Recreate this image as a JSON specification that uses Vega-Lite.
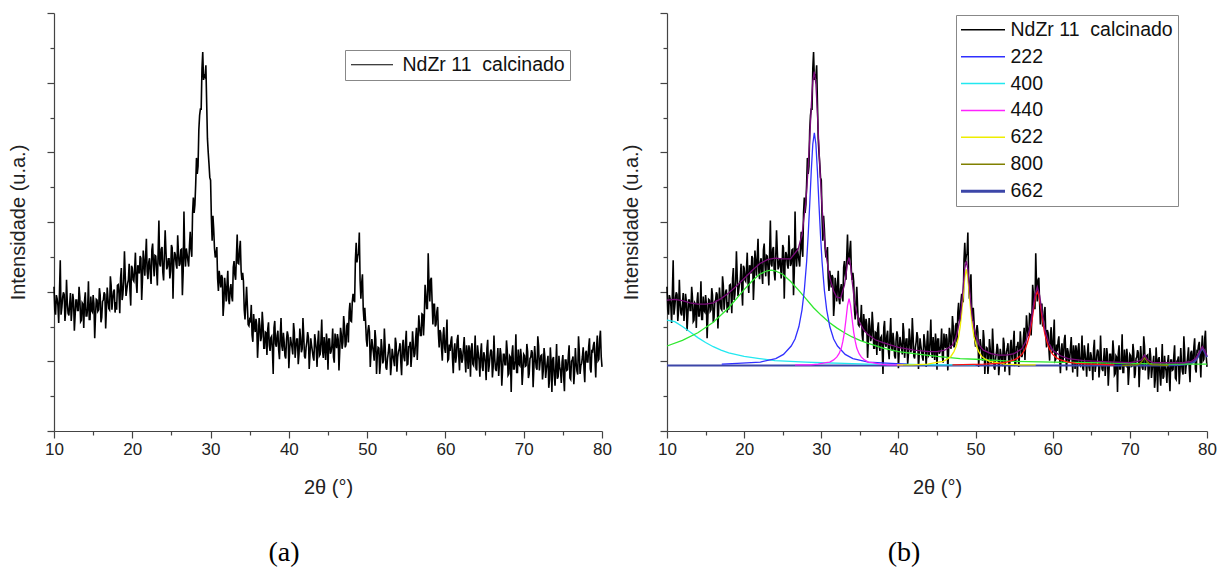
{
"$schema": "https://vega.github.io/schema/vega-lite/v6.json",
"padding": {"left": 8, "top": 12, "right": 5, "bottom": 5},
"spacing": 9,
"background": "#ffffff",
"config": {
  "view": {"stroke": null},
  "axis": {"grid": false, "labelFont": "Liberation Sans", "titleFont": "Liberation Sans", "labelFontSize": 17, "titleFontSize": 20, "titleFontWeight": "normal", "labelColor": "#222222", "titleColor": "#222222", "domainColor": "#444444", "tickColor": "#444444", "domainWidth": 1.2, "tickWidth": 1.2},
  "legend": {"labelFont": "Liberation Sans", "labelColor": "#111111", "labelFontSize": 19.5, "labelLimit": 400}
},
"resolve": {"scale": {"color": "independent"}},
"datasets": {
"raw": [
{"t":10,"i":2.07},{"t":10.2,"i":1.67},{"t":10.4,"i":1.90},{"t":10.6,"i":1.55},{"t":10.8,"i":2.45},
{"t":11,"i":1.77},{"t":11.2,"i":1.99},{"t":11.4,"i":1.58},{"t":11.6,"i":2.17},{"t":11.8,"i":1.69},
{"t":12,"i":1.82},{"t":12.2,"i":1.58},{"t":12.4,"i":1.97},{"t":12.6,"i":1.44},{"t":12.8,"i":1.88},
{"t":13,"i":1.73},{"t":13.2,"i":2.07},{"t":13.4,"i":1.57},{"t":13.6,"i":1.84},{"t":13.8,"i":1.48},
{"t":14,"i":1.99},{"t":14.2,"i":1.65},{"t":14.4,"i":2.15},{"t":14.6,"i":1.60},{"t":14.8,"i":1.73},
{"t":15,"i":1.95},{"t":15.2,"i":1.33},{"t":15.4,"i":1.89},{"t":15.6,"i":1.72},{"t":15.8,"i":2.05},
{"t":16,"i":1.56},{"t":16.2,"i":1.86},{"t":16.4,"i":1.99},{"t":16.6,"i":1.47},{"t":16.8,"i":2.06},
{"t":17,"i":1.76},{"t":17.2,"i":2.22},{"t":17.4,"i":1.74},{"t":17.6,"i":2.00},{"t":17.8,"i":1.70},
{"t":18,"i":1.74},{"t":18.2,"i":2.10},{"t":18.4,"i":1.69},{"t":18.6,"i":2.34},{"t":18.8,"i":1.96},
{"t":19,"i":2.58},{"t":19.2,"i":1.94},{"t":19.4,"i":2.12},{"t":19.6,"i":2.40},{"t":19.8,"i":1.80},
{"t":20,"i":2.34},{"t":20.2,"i":2.15},{"t":20.4,"i":2.56},{"t":20.6,"i":1.98},{"t":20.8,"i":2.35},
{"t":21,"i":2.51},{"t":21.2,"i":1.88},{"t":21.4,"i":2.59},{"t":21.6,"i":2.23},{"t":21.8,"i":2.76},
{"t":22,"i":2.18},{"t":22.2,"i":2.48},{"t":22.4,"i":2.11},{"t":22.6,"i":2.69},{"t":22.8,"i":2.22},
{"t":23,"i":2.51},{"t":23.2,"i":2.09},{"t":23.4,"i":3.02},{"t":23.6,"i":2.36},{"t":23.8,"i":2.64},
{"t":24,"i":2.16},{"t":24.2,"i":2.88},{"t":24.4,"i":2.32},{"t":24.6,"i":2.47},{"t":24.8,"i":2.19},
{"t":25,"i":2.67},{"t":25.2,"i":1.90},{"t":25.4,"i":2.57},{"t":25.6,"i":2.39},{"t":25.8,"i":2.81},
{"t":26,"i":2.37},{"t":26.2,"i":2.60},{"t":26.4,"i":1.95},{"t":26.6,"i":3.15},{"t":26.8,"i":2.36},
{"t":27,"i":2.54},{"t":27.2,"i":2.36},{"t":27.4,"i":2.86},{"t":27.6,"i":2.50},{"t":27.8,"i":3.35},
{"t":28,"i":3.25},{"t":28.2,"i":3.92},{"t":28.4,"i":3.80},{"t":28.6,"i":4.53},{"t":28.8,"i":4.62},
{"t":29,"i":5.44},{"t":29.2,"i":5.10},{"t":29.4,"i":5.25},{"t":29.6,"i":4.20},{"t":29.8,"i":3.83},
{"t":30,"i":3.60},{"t":30.2,"i":2.73},{"t":30.4,"i":2.90},{"t":30.6,"i":2.49},{"t":30.8,"i":2.64},
{"t":31,"i":2.01},{"t":31.2,"i":2.19},{"t":31.4,"i":2.24},{"t":31.6,"i":1.65},{"t":31.8,"i":2.20},
{"t":32,"i":1.86},{"t":32.2,"i":2.30},{"t":32.4,"i":1.82},{"t":32.6,"i":2.11},{"t":32.8,"i":1.86},
{"t":33,"i":2.44},{"t":33.2,"i":2.17},{"t":33.4,"i":2.82},{"t":33.6,"i":2.40},{"t":33.8,"i":2.73},
{"t":34,"i":2.17},{"t":34.2,"i":2.15},{"t":34.4,"i":1.60},{"t":34.6,"i":2.07},{"t":34.8,"i":1.53},
{"t":35,"i":1.60},{"t":35.2,"i":1.81},{"t":35.4,"i":1.28},{"t":35.6,"i":1.52},{"t":35.8,"i":1.61},
{"t":36,"i":1.05},{"t":36.2,"i":1.62},{"t":36.4,"i":1.29},{"t":36.6,"i":1.71},{"t":36.8,"i":1.19},
{"t":37,"i":1.42},{"t":37.2,"i":1.09},{"t":37.4,"i":1.56},{"t":37.6,"i":1.15},{"t":37.8,"i":1.36},
{"t":38,"i":0.82},{"t":38.2,"i":1.58},{"t":38.4,"i":1.21},{"t":38.6,"i":1.44},{"t":38.8,"i":1.03},
{"t":39,"i":1.62},{"t":39.2,"i":1.15},{"t":39.4,"i":1.28},{"t":39.6,"i":1.04},{"t":39.8,"i":1.43},
{"t":40,"i":0.90},{"t":40.2,"i":1.35},{"t":40.4,"i":1.20},{"t":40.6,"i":1.55},{"t":40.8,"i":1.05},
{"t":41,"i":1.32},{"t":41.2,"i":0.96},{"t":41.4,"i":1.47},{"t":41.6,"i":1.13},{"t":41.8,"i":1.62},
{"t":42,"i":1.07},{"t":42.2,"i":1.20},{"t":42.4,"i":1.42},{"t":42.6,"i":0.89},{"t":42.8,"i":1.33},
{"t":43,"i":1.15},{"t":43.2,"i":1.01},{"t":43.4,"i":1.29},{"t":43.6,"i":0.92},{"t":43.8,"i":1.44},
{"t":44,"i":1.10},{"t":44.2,"i":1.60},{"t":44.4,"i":1.05},{"t":44.6,"i":1.18},{"t":44.8,"i":1.40},
{"t":45,"i":0.88},{"t":45.2,"i":1.32},{"t":45.4,"i":1.14},{"t":45.6,"i":1.47},{"t":45.8,"i":0.98},
{"t":46,"i":1.26},{"t":46.2,"i":1.39},{"t":46.4,"i":0.87},{"t":46.6,"i":1.48},{"t":46.8,"i":1.18},
{"t":47,"i":1.65},{"t":47.2,"i":1.20},{"t":47.4,"i":1.51},{"t":47.6,"i":1.27},{"t":47.8,"i":1.84},
{"t":48,"i":1.57},{"t":48.2,"i":1.97},{"t":48.4,"i":1.85},{"t":48.6,"i":2.70},{"t":48.8,"i":2.52},
{"t":49,"i":2.85},{"t":49.2,"i":1.90},{"t":49.4,"i":2.25},{"t":49.6,"i":1.58},{"t":49.8,"i":1.57},
{"t":50,"i":1.21},{"t":50.2,"i":1.52},{"t":50.4,"i":0.92},{"t":50.6,"i":1.32},{"t":50.8,"i":1.13},
{"t":51,"i":1.45},{"t":51.2,"i":0.82},{"t":51.4,"i":1.20},{"t":51.6,"i":0.82},{"t":51.8,"i":1.32},
{"t":52,"i":0.97},{"t":52.2,"i":1.47},{"t":52.4,"i":0.91},{"t":52.6,"i":1.04},{"t":52.8,"i":1.25},
{"t":53,"i":0.80},{"t":53.2,"i":1.18},{"t":53.4,"i":1.01},{"t":53.6,"i":1.34},{"t":53.8,"i":0.85},
{"t":54,"i":1.14},{"t":54.2,"i":1.26},{"t":54.4,"i":0.80},{"t":54.6,"i":1.31},{"t":54.8,"i":1.00},
{"t":55,"i":1.44},{"t":55.2,"i":0.96},{"t":55.4,"i":1.21},{"t":55.6,"i":0.92},{"t":55.8,"i":1.43},
{"t":56,"i":1.06},{"t":56.2,"i":1.33},{"t":56.4,"i":1.02},{"t":56.6,"i":1.66},{"t":56.8,"i":1.37},
{"t":57,"i":1.68},{"t":57.2,"i":1.37},{"t":57.4,"i":2.10},{"t":57.6,"i":1.76},{"t":57.8,"i":2.55},
{"t":58,"i":1.86},{"t":58.2,"i":2.20},{"t":58.4,"i":1.53},{"t":58.6,"i":1.82},{"t":58.8,"i":1.53},
{"t":59,"i":1.78},{"t":59.2,"i":1.20},{"t":59.4,"i":1.41},{"t":59.6,"i":1.01},{"t":59.8,"i":1.49},
{"t":60,"i":1.12},{"t":60.2,"i":1.60},{"t":60.4,"i":1.03},{"t":60.6,"i":1.15},{"t":60.8,"i":1.36},
{"t":61,"i":0.83},{"t":61.2,"i":1.26},{"t":61.4,"i":1.07},{"t":61.6,"i":1.38},{"t":61.8,"i":0.87},
{"t":62,"i":1.14},{"t":62.2,"i":1.03},{"t":62.4,"i":1.35},{"t":62.6,"i":0.84},{"t":62.8,"i":1.12},
{"t":63,"i":1.23},{"t":63.2,"i":0.78},{"t":63.4,"i":1.26},{"t":63.6,"i":0.94},{"t":63.8,"i":1.37},
{"t":64,"i":0.87},{"t":64.2,"i":1.11},{"t":64.4,"i":0.78},{"t":64.6,"i":1.26},{"t":64.8,"i":0.86},
{"t":65,"i":1.08},{"t":65.2,"i":0.73},{"t":65.4,"i":1.31},{"t":65.6,"i":0.94},{"t":65.8,"i":1.17},
{"t":66,"i":0.77},{"t":66.2,"i":1.37},{"t":66.4,"i":0.89},{"t":66.6,"i":1.03},{"t":66.8,"i":0.79},
{"t":67,"i":1.19},{"t":67.2,"i":0.65},{"t":67.4,"i":1.10},{"t":67.6,"i":0.95},{"t":67.8,"i":1.30},
{"t":68,"i":0.80},{"t":68.2,"i":1.08},{"t":68.4,"i":0.56},{"t":68.6,"i":1.23},{"t":68.8,"i":0.89},
{"t":69,"i":1.39},{"t":69.2,"i":0.84},{"t":69.4,"i":0.96},{"t":69.6,"i":1.18},{"t":69.8,"i":0.66},
{"t":70,"i":1.10},{"t":70.2,"i":0.93},{"t":70.4,"i":1.25},{"t":70.6,"i":0.76},{"t":70.8,"i":1.04},
{"t":71,"i":1.16},{"t":71.2,"i":0.63},{"t":71.4,"i":1.22},{"t":71.6,"i":0.91},{"t":71.8,"i":1.36},
{"t":72,"i":0.87},{"t":72.2,"i":1.08},{"t":72.4,"i":0.74},{"t":72.6,"i":1.19},{"t":72.8,"i":0.76},
{"t":73,"i":0.98},{"t":73.2,"i":0.62},{"t":73.4,"i":1.20},{"t":73.6,"i":0.56},{"t":73.8,"i":1.06},
{"t":74,"i":0.65},{"t":74.2,"i":1.25},{"t":74.4,"i":0.78},{"t":74.6,"i":0.92},{"t":74.8,"i":0.69},
{"t":75,"i":1.09},{"t":75.2,"i":0.57},{"t":75.4,"i":1.02},{"t":75.6,"i":0.88},{"t":75.8,"i":1.23},
{"t":76,"i":0.74},{"t":76.2,"i":1.02},{"t":76.4,"i":0.67},{"t":76.6,"i":1.19},{"t":76.8,"i":0.86},
{"t":77,"i":1.36},{"t":77.2,"i":0.82},{"t":77.4,"i":0.97},{"t":77.6,"i":1.20},{"t":77.8,"i":0.70},
{"t":78,"i":1.15},{"t":78.2,"i":0.99},{"t":78.4,"i":1.33},{"t":78.6,"i":0.84},{"t":78.8,"i":1.14},
{"t":79,"i":1.28},{"t":79.2,"i":0.77},{"t":79.4,"i":1.37},{"t":79.6,"i":1.03},{"t":79.8,"i":1.44},
{"t":80,"i":0.92},
{"t":10.1,"i":1.73},{"t":10.3,"i":1.95},{"t":10.5,"i":1.80},{"t":10.7,"i":2.00},{"t":10.9,"i":1.67},
{"t":11.1,"i":1.91},{"t":11.3,"i":1.96},{"t":11.5,"i":1.73},{"t":11.7,"i":1.84},{"t":11.9,"i":1.66},
{"t":12.1,"i":1.98},{"t":12.3,"i":1.75},{"t":12.5,"i":1.87},{"t":12.7,"i":1.66},{"t":12.9,"i":1.88},
{"t":13.1,"i":1.73},{"t":13.3,"i":1.92},{"t":13.5,"i":1.59},{"t":13.7,"i":1.82},{"t":13.9,"i":1.87},
{"t":14.1,"i":1.65},{"t":14.3,"i":1.77},{"t":14.5,"i":1.60},{"t":14.7,"i":1.93},{"t":14.9,"i":1.71},
{"t":15.1,"i":1.83},{"t":15.3,"i":1.65},{"t":15.5,"i":1.88},{"t":15.7,"i":1.74},{"t":15.9,"i":1.95},
{"t":16.1,"i":1.63},{"t":16.3,"i":1.88},{"t":16.5,"i":1.96},{"t":16.7,"i":1.76},{"t":16.9,"i":1.89},
{"t":17.1,"i":1.74},{"t":17.3,"i":2.09},{"t":17.5,"i":1.89},{"t":17.7,"i":2.03},{"t":17.9,"i":1.85},
{"t":18.1,"i":2.09},{"t":18.3,"i":1.97},{"t":18.5,"i":2.19},{"t":18.7,"i":1.88},{"t":18.9,"i":2.15},
{"t":19.1,"i":2.23},{"t":19.3,"i":2.03},{"t":19.5,"i":2.17},{"t":19.7,"i":2.02},{"t":19.9,"i":2.37},
{"t":20.1,"i":2.17},{"t":20.3,"i":2.32},{"t":20.5,"i":2.14},{"t":20.7,"i":2.38},{"t":20.9,"i":2.26},
{"t":21.1,"i":2.48},{"t":21.3,"i":2.16},{"t":21.5,"i":2.42},{"t":21.7,"i":2.50},{"t":21.9,"i":2.29},
{"t":22.1,"i":2.42},{"t":22.3,"i":2.26},{"t":22.5,"i":2.60},{"t":22.7,"i":2.39},{"t":22.9,"i":2.52},
{"t":23.1,"i":2.33},{"t":23.3,"i":2.55},{"t":23.5,"i":2.40},{"t":23.7,"i":2.61},{"t":23.9,"i":2.28},
{"t":24.1,"i":2.52},{"t":24.3,"i":2.58},{"t":24.5,"i":2.36},{"t":24.7,"i":2.47},{"t":24.9,"i":2.30},
{"t":25.1,"i":2.63},{"t":25.3,"i":2.41},{"t":25.5,"i":2.53},{"t":25.7,"i":2.33},{"t":25.9,"i":2.55},
{"t":26.1,"i":2.40},{"t":26.3,"i":2.61},{"t":26.5,"i":2.28},{"t":26.7,"i":2.53},{"t":26.9,"i":2.62},
{"t":27.1,"i":2.45},{"t":27.3,"i":2.65},{"t":27.5,"i":2.61},{"t":27.7,"i":3.13},{"t":27.9,"i":3.13},
{"t":28.1,"i":3.54},{"t":28.3,"i":3.69},{"t":28.5,"i":4.32},{"t":28.7,"i":4.62},{"t":28.9,"i":5.20},
{"t":29.1,"i":5.04},{"t":29.3,"i":5.08},{"t":29.5,"i":4.72},{"t":29.7,"i":4.00},{"t":29.9,"i":3.64},
{"t":30.1,"i":3.07},{"t":30.3,"i":3.09},{"t":30.5,"i":2.62},{"t":30.7,"i":2.54},{"t":30.9,"i":2.19},
{"t":31.1,"i":2.30},{"t":31.3,"i":2.06},{"t":31.5,"i":2.20},{"t":31.7,"i":1.83},{"t":31.9,"i":2.05},
{"t":32.1,"i":2.10},{"t":32.3,"i":1.89},{"t":32.5,"i":2.04},{"t":32.7,"i":1.93},{"t":32.9,"i":2.35},
{"t":33.1,"i":2.24},{"t":33.3,"i":2.50},{"t":33.5,"i":2.41},{"t":33.7,"i":2.60},{"t":33.9,"i":2.30},
{"t":34.1,"i":2.27},{"t":34.3,"i":1.74},{"t":34.5,"i":1.84},{"t":34.7,"i":1.80},{"t":34.9,"i":1.51},
{"t":35.1,"i":1.58},{"t":35.3,"i":1.38},{"t":35.5,"i":1.68},{"t":35.7,"i":1.42},{"t":35.9,"i":1.52},
{"t":36.1,"i":1.30},{"t":36.3,"i":1.51},{"t":36.5,"i":1.35},{"t":36.7,"i":1.53},{"t":36.9,"i":1.19},
{"t":37.1,"i":1.41},{"t":37.3,"i":1.46},{"t":37.5,"i":1.23},{"t":37.7,"i":1.34},{"t":37.9,"i":1.16},
{"t":38.1,"i":1.48},{"t":38.3,"i":1.25},{"t":38.5,"i":1.37},{"t":38.7,"i":1.16},{"t":38.9,"i":1.37},
{"t":39.1,"i":1.22},{"t":39.3,"i":1.41},{"t":39.5,"i":1.08},{"t":39.7,"i":1.31},{"t":39.9,"i":1.37},
{"t":40.1,"i":1.15},{"t":40.3,"i":1.27},{"t":40.5,"i":1.10},{"t":40.7,"i":1.42},{"t":40.9,"i":1.20},
{"t":41.1,"i":1.32},{"t":41.3,"i":1.11},{"t":41.5,"i":1.33},{"t":41.7,"i":1.18},{"t":41.9,"i":1.37},
{"t":42.1,"i":1.04},{"t":42.3,"i":1.28},{"t":42.5,"i":1.34},{"t":42.7,"i":1.11},{"t":42.9,"i":1.23},
{"t":43.1,"i":1.06},{"t":43.3,"i":1.39},{"t":43.5,"i":1.17},{"t":43.7,"i":1.28},{"t":43.9,"i":1.08},
{"t":44.1,"i":1.30},{"t":44.3,"i":1.15},{"t":44.5,"i":1.35},{"t":44.7,"i":1.02},{"t":44.9,"i":1.26},
{"t":45.1,"i":1.32},{"t":45.3,"i":1.11},{"t":45.5,"i":1.23},{"t":45.7,"i":1.06},{"t":45.9,"i":1.40},
{"t":46.1,"i":1.19},{"t":46.3,"i":1.32},{"t":46.5,"i":1.14},{"t":46.7,"i":1.39},{"t":46.9,"i":1.27},
{"t":47.1,"i":1.51},{"t":47.3,"i":1.24},{"t":47.5,"i":1.55},{"t":47.7,"i":1.70},{"t":47.9,"i":1.58},
{"t":48.1,"i":1.85},{"t":48.3,"i":1.88},{"t":48.5,"i":2.46},{"t":48.7,"i":2.42},{"t":48.9,"i":2.54},
{"t":49.1,"i":2.16},{"t":49.3,"i":2.12},{"t":49.5,"i":1.75},{"t":49.7,"i":1.77},{"t":49.9,"i":1.31},
{"t":50.1,"i":1.44},{"t":50.3,"i":1.42},{"t":50.5,"i":1.14},{"t":50.7,"i":1.22},{"t":50.9,"i":1.01},
{"t":51.1,"i":1.32},{"t":51.3,"i":1.09},{"t":51.5,"i":1.19},{"t":51.7,"i":0.97},{"t":51.9,"i":1.18},
{"t":52.1,"i":1.02},{"t":52.3,"i":1.22},{"t":52.5,"i":0.88},{"t":52.7,"i":1.12},{"t":52.9,"i":1.17},
{"t":53.1,"i":0.95},{"t":53.3,"i":1.09},{"t":53.5,"i":0.93},{"t":53.7,"i":1.26},{"t":53.9,"i":1.06},
{"t":54.1,"i":1.18},{"t":54.3,"i":0.99},{"t":54.5,"i":1.21},{"t":54.7,"i":1.06},{"t":54.9,"i":1.27},
{"t":55.1,"i":0.95},{"t":55.3,"i":1.21},{"t":55.5,"i":1.28},{"t":55.7,"i":1.09},{"t":55.9,"i":1.24},
{"t":56.1,"i":1.11},{"t":56.3,"i":1.48},{"t":56.5,"i":1.31},{"t":56.7,"i":1.49},{"t":56.9,"i":1.37},
{"t":57.1,"i":1.67},{"t":57.3,"i":1.63},{"t":57.5,"i":1.96},{"t":57.7,"i":1.76},{"t":57.9,"i":2.10},
{"t":58.1,"i":2.17},{"t":58.3,"i":1.85},{"t":58.5,"i":1.82},{"t":58.7,"i":1.50},{"t":58.9,"i":1.71},
{"t":59.1,"i":1.40},{"t":59.3,"i":1.45},{"t":59.5,"i":1.19},{"t":59.7,"i":1.37},{"t":59.9,"i":1.19},
{"t":60.1,"i":1.36},{"t":60.3,"i":1.01},{"t":60.5,"i":1.24},{"t":60.7,"i":1.29},{"t":60.9,"i":1.05},
{"t":61.1,"i":1.16},{"t":61.3,"i":0.98},{"t":61.5,"i":1.31},{"t":61.7,"i":1.08},{"t":61.9,"i":1.19},
{"t":62.1,"i":0.98},{"t":62.3,"i":1.19},{"t":62.5,"i":1.04},{"t":62.7,"i":1.23},{"t":62.9,"i":0.89},
{"t":63.1,"i":1.13},{"t":63.3,"i":1.19},{"t":63.5,"i":0.96},{"t":63.7,"i":1.08},{"t":63.9,"i":0.90},
{"t":64.1,"i":1.23},{"t":64.3,"i":1.01},{"t":64.5,"i":1.12},{"t":64.7,"i":0.92},{"t":64.9,"i":1.13},
{"t":65.1,"i":0.98},{"t":65.3,"i":1.18},{"t":65.5,"i":0.85},{"t":65.7,"i":1.08},{"t":65.9,"i":1.14},
{"t":66.1,"i":0.92},{"t":66.3,"i":1.04},{"t":66.5,"i":0.86},{"t":66.7,"i":1.19},{"t":66.9,"i":0.97},
{"t":67.1,"i":1.09},{"t":67.3,"i":0.88},{"t":67.5,"i":1.10},{"t":67.7,"i":0.95},{"t":67.9,"i":1.15},
{"t":68.1,"i":0.82},{"t":68.3,"i":1.06},{"t":68.5,"i":1.11},{"t":68.7,"i":0.89},{"t":68.9,"i":1.01},
{"t":69.1,"i":0.84},{"t":69.3,"i":1.17},{"t":69.5,"i":0.94},{"t":69.7,"i":1.06},{"t":69.9,"i":0.86},
{"t":70.1,"i":1.08},{"t":70.3,"i":0.94},{"t":70.5,"i":1.14},{"t":70.7,"i":0.82},{"t":70.9,"i":1.06},
{"t":71.1,"i":1.12},{"t":71.3,"i":0.91},{"t":71.5,"i":1.04},{"t":71.7,"i":0.88},{"t":71.9,"i":1.22},
{"t":72.1,"i":1.00},{"t":72.3,"i":1.09},{"t":72.5,"i":0.87},{"t":72.7,"i":1.06},{"t":72.9,"i":0.89},
{"t":73.1,"i":1.08},{"t":73.3,"i":0.74},{"t":73.5,"i":0.98},{"t":73.7,"i":1.03},{"t":73.9,"i":0.80},
{"t":74.1,"i":0.92},{"t":74.3,"i":0.75},{"t":74.5,"i":1.08},{"t":74.7,"i":0.86},{"t":74.9,"i":0.99},
{"t":75.1,"i":0.79},{"t":75.3,"i":1.02},{"t":75.5,"i":0.87},{"t":75.7,"i":1.08},{"t":75.9,"i":0.76},
{"t":76.1,"i":1.00},{"t":76.3,"i":1.07},{"t":76.5,"i":0.85},{"t":76.7,"i":0.97},{"t":76.9,"i":0.81},
{"t":77.1,"i":1.14},{"t":77.3,"i":0.94},{"t":77.5,"i":1.07},{"t":77.7,"i":0.89},{"t":77.9,"i":1.12},
{"t":78.1,"i":0.99},{"t":78.3,"i":1.21},{"t":78.5,"i":0.89},{"t":78.7,"i":1.15},{"t":78.9,"i":1.23},
{"t":79.1,"i":1.03},{"t":79.3,"i":1.18},{"t":79.5,"i":1.01},{"t":79.7,"i":1.32},{"t":79.9,"i":1.07}
],
"fits": [
{"s":"662","t":10,"i":0.94},{"s":"662","t":30,"i":0.94},{"s":"662","t":50,"i":0.94},{"s":"662","t":70,"i":0.94},{"s":"662","t":74.4,"i":0.94},{"s":"662","t":76.4,"i":0.95},{"s":"662","t":77.4,"i":0.96},{"s":"662","t":77.9,"i":0.97},{"s":"662","t":78.4,"i":1.00},{"s":"662","t":78.6,"i":1.03},{"s":"662","t":78.8,"i":1.06},{"s":"662","t":79,"i":1.11},{"s":"662","t":79.2,"i":1.16},{"s":"662","t":79.4,"i":1.18},{"s":"662","t":79.6,"i":1.16},{"s":"662","t":79.8,"i":1.11},{"s":"662","t":80,"i":1.06},
{"s":"400","t":10,"i":1.59},{"s":"400","t":11,"i":1.57},{"s":"400","t":12,"i":1.50},{"s":"400","t":13,"i":1.42},{"s":"400","t":14,"i":1.34},{"s":"400","t":15,"i":1.27},{"s":"400","t":16,"i":1.21},{"s":"400","t":17,"i":1.16},{"s":"400","t":18,"i":1.12},{"s":"400","t":20,"i":1.07},{"s":"400","t":22,"i":1.04},{"s":"400","t":24,"i":1.01},{"s":"400","t":26,"i":1.00},{"s":"400","t":28,"i":0.99},{"s":"400","t":30,"i":0.98},{"s":"400","t":33,"i":0.97},{"s":"400","t":36,"i":0.96},{"s":"400","t":40,"i":0.96},{"s":"400","t":45,"i":0.95},{"s":"400","t":50,"i":0.95},
{"s":"amorfo","t":10,"i":1.22},{"s":"amorfo","t":12,"i":1.30},{"s":"amorfo","t":14,"i":1.41},{"s":"amorfo","t":16,"i":1.56},{"s":"amorfo","t":18,"i":1.77},{"s":"amorfo","t":20,"i":2.03},{"s":"amorfo","t":21,"i":2.15},{"s":"amorfo","t":22,"i":2.25},{"s":"amorfo","t":23,"i":2.30},{"s":"amorfo","t":23.5,"i":2.31},{"s":"amorfo","t":24,"i":2.30},{"s":"amorfo","t":25,"i":2.25},{"s":"amorfo","t":26,"i":2.15},{"s":"amorfo","t":27,"i":2.03},{"s":"amorfo","t":28,"i":1.90},{"s":"amorfo","t":29,"i":1.77},{"s":"amorfo","t":30,"i":1.66},{"s":"amorfo","t":31,"i":1.56},{"s":"amorfo","t":32,"i":1.48},{"s":"amorfo","t":33,"i":1.41},{"s":"amorfo","t":34,"i":1.35},{"s":"amorfo","t":35,"i":1.30},{"s":"amorfo","t":36,"i":1.26},{"s":"amorfo","t":38,"i":1.19},{"s":"amorfo","t":40,"i":1.14},{"s":"amorfo","t":42,"i":1.11},{"s":"amorfo","t":45,"i":1.07},{"s":"amorfo","t":48,"i":1.04},{"s":"amorfo","t":50,"i":1.03},{"s":"amorfo","t":55,"i":1.00},{"s":"amorfo","t":60,"i":0.99},{"s":"amorfo","t":65,"i":0.98},{"s":"amorfo","t":70,"i":0.97},{"s":"amorfo","t":75,"i":0.96},{"s":"amorfo","t":80,"i":0.96},
{"s":"222","t":17.1,"i":0.96},{"s":"222","t":19.1,"i":0.97},{"s":"222","t":22.1,"i":0.99},{"s":"222","t":24.1,"i":1.04},{"s":"222","t":25.1,"i":1.10},{"s":"222","t":26.1,"i":1.22},{"s":"222","t":26.6,"i":1.32},{"s":"222","t":27.1,"i":1.50},{"s":"222","t":27.5,"i":1.74},{"s":"222","t":27.8,"i":2.02},{"s":"222","t":28.1,"i":2.43},{"s":"222","t":28.3,"i":2.81},{"s":"222","t":28.5,"i":3.25},{"s":"222","t":28.7,"i":3.73},{"s":"222","t":28.9,"i":4.12},{"s":"222","t":29.1,"i":4.28},{"s":"222","t":29.3,"i":4.12},{"s":"222","t":29.5,"i":3.73},{"s":"222","t":29.7,"i":3.25},{"s":"222","t":29.9,"i":2.81},{"s":"222","t":30.1,"i":2.43},{"s":"222","t":30.4,"i":2.02},{"s":"222","t":30.7,"i":1.74},{"s":"222","t":31.1,"i":1.50},{"s":"222","t":31.6,"i":1.32},{"s":"222","t":32.1,"i":1.22},{"s":"222","t":33.1,"i":1.10},{"s":"222","t":34.1,"i":1.04},{"s":"222","t":36.1,"i":0.99},{"s":"222","t":39.1,"i":0.97},{"s":"222","t":41.1,"i":0.96},
{"s":"440","t":26.6,"i":0.95},{"s":"440","t":28.6,"i":0.95},{"s":"440","t":29.6,"i":0.96},{"s":"440","t":30.6,"i":0.98},{"s":"440","t":31.1,"i":0.99},{"s":"440","t":31.6,"i":1.02},{"s":"440","t":32,"i":1.06},{"s":"440","t":32.3,"i":1.11},{"s":"440","t":32.6,"i":1.19},{"s":"440","t":32.8,"i":1.29},{"s":"440","t":33,"i":1.42},{"s":"440","t":33.2,"i":1.60},{"s":"440","t":33.4,"i":1.80},{"s":"440","t":33.6,"i":1.90},{"s":"440","t":33.8,"i":1.80},{"s":"440","t":34,"i":1.60},{"s":"440","t":34.2,"i":1.42},{"s":"440","t":34.4,"i":1.29},{"s":"440","t":34.6,"i":1.19},{"s":"440","t":34.9,"i":1.11},{"s":"440","t":35.2,"i":1.06},{"s":"440","t":35.6,"i":1.02},{"s":"440","t":36.1,"i":0.99},{"s":"440","t":36.6,"i":0.98},{"s":"440","t":37.6,"i":0.96},{"s":"440","t":38.6,"i":0.95},{"s":"440","t":40.6,"i":0.95},
{"s":"622","t":39.8,"i":0.95},{"s":"622","t":41.8,"i":0.95},{"s":"622","t":43.8,"i":0.96},{"s":"622","t":44.8,"i":0.98},{"s":"622","t":45.8,"i":1.00},{"s":"622","t":46.3,"i":1.03},{"s":"622","t":46.8,"i":1.07},{"s":"622","t":47.2,"i":1.14},{"s":"622","t":47.5,"i":1.22},{"s":"622","t":47.8,"i":1.35},{"s":"622","t":48,"i":1.49},{"s":"622","t":48.2,"i":1.69},{"s":"622","t":48.4,"i":1.94},{"s":"622","t":48.6,"i":2.20},{"s":"622","t":48.8,"i":2.32},{"s":"622","t":49,"i":2.20},{"s":"622","t":49.2,"i":1.94},{"s":"622","t":49.4,"i":1.69},{"s":"622","t":49.6,"i":1.49},{"s":"622","t":49.8,"i":1.35},{"s":"622","t":50.1,"i":1.22},{"s":"622","t":50.4,"i":1.14},{"s":"622","t":50.8,"i":1.07},{"s":"622","t":51.3,"i":1.03},{"s":"622","t":51.8,"i":1.00},{"s":"622","t":52.8,"i":0.98},{"s":"622","t":53.8,"i":0.96},{"s":"622","t":55.8,"i":0.95},{"s":"622","t":57.8,"i":0.95},
{"s":"R","t":47,"i":0.95},{"s":"R","t":51,"i":0.96},{"s":"R","t":53,"i":0.97},{"s":"R","t":54,"i":0.99},{"s":"R","t":55,"i":1.02},{"s":"R","t":55.5,"i":1.05},{"s":"R","t":56,"i":1.10},{"s":"R","t":56.4,"i":1.17},{"s":"R","t":56.7,"i":1.26},{"s":"R","t":57,"i":1.38},{"s":"R","t":57.2,"i":1.50},{"s":"R","t":57.4,"i":1.65},{"s":"R","t":57.6,"i":1.81},{"s":"R","t":57.8,"i":1.94},{"s":"R","t":58,"i":2.00},{"s":"R","t":58.2,"i":1.94},{"s":"R","t":58.4,"i":1.81},{"s":"R","t":58.6,"i":1.65},{"s":"R","t":58.8,"i":1.50},{"s":"R","t":59,"i":1.38},{"s":"R","t":59.3,"i":1.26},{"s":"R","t":59.6,"i":1.17},{"s":"R","t":60,"i":1.10},{"s":"R","t":60.5,"i":1.05},{"s":"R","t":61,"i":1.02},{"s":"R","t":62,"i":0.99},{"s":"R","t":63,"i":0.97},{"s":"R","t":65,"i":0.96},{"s":"R","t":68,"i":0.95},
{"s":"800","t":69,"i":0.94},{"s":"800","t":70.5,"i":0.95},{"s":"800","t":70.9,"i":0.95},{"s":"800","t":71.2,"i":0.96},{"s":"800","t":71.5,"i":0.99},{"s":"800","t":71.7,"i":1.02},{"s":"800","t":71.9,"i":1.05},{"s":"800","t":72.1,"i":1.02},{"s":"800","t":72.3,"i":0.99},{"s":"800","t":72.6,"i":0.96},{"s":"800","t":72.9,"i":0.95},{"s":"800","t":73.4,"i":0.95},{"s":"800","t":75,"i":0.94},
{"s":"total","t":10,"i":1.88},{"s":"total","t":11,"i":1.89},{"s":"total","t":12,"i":1.87},{"s":"total","t":13,"i":1.84},{"s":"total","t":14,"i":1.82},{"s":"total","t":15,"i":1.82},{"s":"total","t":16,"i":1.84},{"s":"total","t":17,"i":1.90},{"s":"total","t":18,"i":1.98},{"s":"total","t":19,"i":2.08},{"s":"total","t":20,"i":2.19},{"s":"total","t":21,"i":2.30},{"s":"total","t":22,"i":2.40},{"s":"total","t":23,"i":2.46},{"s":"total","t":24,"i":2.48},{"s":"total","t":25,"i":2.47},{"s":"total","t":26,"i":2.47},{"s":"total","t":27,"i":2.61},{"s":"total","t":27.5,"i":2.82},{"s":"total","t":28,"i":3.29},{"s":"total","t":28.3,"i":3.78},{"s":"total","t":28.5,"i":4.20},{"s":"total","t":28.7,"i":4.66},{"s":"total","t":28.9,"i":5.03},{"s":"total","t":29.1,"i":5.16},{"s":"total","t":29.3,"i":4.98},{"s":"total","t":29.5,"i":4.56},{"s":"total","t":29.7,"i":4.07},{"s":"total","t":29.9,"i":3.60},{"s":"total","t":30.1,"i":3.21},{"s":"total","t":30.4,"i":2.77},{"s":"total","t":30.7,"i":2.47},{"s":"total","t":31.1,"i":2.20},{"s":"total","t":31.6,"i":2.01},{"s":"total","t":32,"i":1.92},{"s":"total","t":32.5,"i":1.91},{"s":"total","t":33,"i":2.09},{"s":"total","t":33.2,"i":2.24},{"s":"total","t":33.4,"i":2.42},{"s":"total","t":33.6,"i":2.49},{"s":"total","t":33.8,"i":2.37},{"s":"total","t":34,"i":2.15},{"s":"total","t":34.3,"i":1.86},{"s":"total","t":34.6,"i":1.69},{"s":"total","t":35,"i":1.55},{"s":"total","t":35.5,"i":1.45},{"s":"total","t":36,"i":1.39},{"s":"total","t":37,"i":1.31},{"s":"total","t":38,"i":1.27},{"s":"total","t":40,"i":1.20},{"s":"total","t":42,"i":1.16},{"s":"total","t":44,"i":1.14},{"s":"total","t":45,"i":1.14},{"s":"total","t":46,"i":1.16},{"s":"total","t":47,"i":1.23},{"s":"total","t":47.5,"i":1.35},{"s":"total","t":48,"i":1.62},{"s":"total","t":48.2,"i":1.81},{"s":"total","t":48.4,"i":2.07},{"s":"total","t":48.6,"i":2.33},{"s":"total","t":48.8,"i":2.44},{"s":"total","t":49,"i":2.32},{"s":"total","t":49.2,"i":2.06},{"s":"total","t":49.4,"i":1.81},{"s":"total","t":49.6,"i":1.61},{"s":"total","t":50,"i":1.37},{"s":"total","t":50.5,"i":1.23},{"s":"total","t":51,"i":1.16},{"s":"total","t":52,"i":1.11},{"s":"total","t":53,"i":1.09},{"s":"total","t":54,"i":1.09},{"s":"total","t":55,"i":1.11},{"s":"total","t":56,"i":1.18},{"s":"total","t":56.5,"i":1.28},{"s":"total","t":57,"i":1.46},{"s":"total","t":57.4,"i":1.72},{"s":"total","t":57.7,"i":1.95},{"s":"total","t":58,"i":2.07},{"s":"total","t":58.3,"i":1.95},{"s":"total","t":58.6,"i":1.72},{"s":"total","t":59,"i":1.45},{"s":"total","t":59.5,"i":1.26},{"s":"total","t":60,"i":1.16},{"s":"total","t":61,"i":1.08},{"s":"total","t":62,"i":1.04},{"s":"total","t":64,"i":1.01},{"s":"total","t":66,"i":1.00},{"s":"total","t":68,"i":0.99},{"s":"total","t":70,"i":0.98},{"s":"total","t":71,"i":1.00},{"s":"total","t":71.5,"i":1.02},{"s":"total","t":71.9,"i":1.09},{"s":"total","t":72.3,"i":1.02},{"s":"total","t":73,"i":0.98},{"s":"total","t":75,"i":0.98},{"s":"total","t":77,"i":0.98},{"s":"total","t":78,"i":1.00},{"s":"total","t":78.5,"i":1.04},{"s":"total","t":79,"i":1.13},{"s":"total","t":79.4,"i":1.21},{"s":"total","t":79.8,"i":1.13},{"s":"total","t":80,"i":1.08}
]
},
"hconcat": [
{
  "width": 548, "height": 418,
  "title": {"text": "(a)", "orient": "bottom", "frame": "group", "anchor": "middle", "dx": -44, "offset": 42, "font": "Liberation Serif", "fontSize": 28, "fontWeight": "normal", "color": "#000000"},
  "data": {"name": "raw"},
  "mark": {"type": "line", "strokeWidth": 1.6},
  "encoding": {
    "x": {"field": "t", "type": "quantitative", "scale": {"domain": [10, 80], "nice": false, "zero": false},
      "axis": {"title": "2θ (°)", "values": [10,15,20,25,30,35,40,45,50,55,60,65,70,75,80], "labelExpr": "datum.value % 10 === 0 ? datum.label : ''", "tickSize": {"condition": {"test": "datum.value % 10 === 0", "value": 7}, "value": 4}, "labelPadding": 3, "titlePadding": 20, "labelFlush": false}},
    "y": {"field": "i", "type": "quantitative", "scale": {"domain": [0, 6], "nice": false, "zero": false},
      "axis": {"title": "Intensidade (u.a.)", "values": [0,0.5,1,1.5,2,2.5,3,3.5,4,4.5,5,5.5,6], "labels": false, "tickSize": {"condition": {"test": "datum.value % 1 === 0", "value": 7}, "value": 4}, "titlePadding": 18}},
    "color": {"datum": "NdZr 11\u00a0 calcinado", "type": "nominal", "scale": {"domain": ["NdZr 11\u00a0 calcinado"], "range": ["#000000"]},
      "legend": {"title": null, "orient": "none", "legendX": 291, "legendY": 37, "values": ["NdZr 11\u00a0 calcinado"], "symbolType": "stroke", "symbolSize": 324, "symbolStrokeWidth": 1, "padding": 5, "labelOffset": 33, "strokeColor": "#888888", "fillColor": "#ffffff",
        "encode": {"symbols": {"update": {"size": {"value": 1764}, "x": {"value": 22}, "stroke": {"value": "#333333"}, "strokeWidth": {"signal": "datum.value === '662' ? 3 : 1"}}}}}}
  }
},
{
  "width": 540, "height": 418,
  "title": {"text": "(b)", "orient": "bottom", "frame": "group", "anchor": "middle", "dx": -33, "offset": 42, "font": "Liberation Serif", "fontSize": 28, "fontWeight": "normal", "color": "#000000"},
  "encoding": {
    "x": {"field": "t", "type": "quantitative", "scale": {"domain": [10, 80], "nice": false, "zero": false},
      "axis": {"title": "2θ (°)", "values": [10,15,20,25,30,35,40,45,50,55,60,65,70,75,80], "labelExpr": "datum.value % 10 === 0 ? datum.label : ''", "tickSize": {"condition": {"test": "datum.value % 10 === 0", "value": 7}, "value": 4}, "labelPadding": 3, "titlePadding": 20, "labelFlush": false}},
    "y": {"field": "i", "type": "quantitative", "scale": {"domain": [0, 6], "nice": false, "zero": false},
      "axis": {"title": "Intensidade (u.a.)", "values": [0,0.5,1,1.5,2,2.5,3,3.5,4,4.5,5,5.5,6], "labels": false, "tickSize": {"condition": {"test": "datum.value % 1 === 0", "value": 7}, "value": 4}, "titlePadding": 18}}
  },
  "layer": [
    {"data": {"name": "raw"}, "mark": {"type": "line", "strokeWidth": 1.6},
     "encoding": {"color": {"datum": "NdZr 11\u00a0 calcinado", "type": "nominal"}}},
    {"data": {"name": "fits"}, "mark": {"type": "line"},
     "encoding": {
       "color": {"field": "s", "type": "nominal",
         "scale": {"domain": ["NdZr 11\u00a0 calcinado","222","400","440","622","800","662","amorfo","R","total"], "range": ["#000000","#3030ff","#22e8f0","#ff22ff","#eeee00","#808000","#3c46a8","#2ee82e","#ff1010","#7a0a7a"]},
         "legend": {"title": null, "orient": "none", "legendX": 289, "legendY": 2, "values": ["NdZr 11\u00a0 calcinado","222","400","440","622","800","662"], "symbolType": "stroke", "symbolSize": 324, "symbolStrokeWidth": 1.5, "padding": 5, "rowPadding": 5.9, "labelOffset": 30, "strokeColor": "#888888", "fillColor": "#ffffff",
           "encode": {"symbols": {"update": {"size": {"value": 1936}, "x": {"value": 22}, "strokeWidth": {"signal": "datum.value === '662' ? 3 : 1.5"}}}}}},
       "strokeWidth": {"condition": {"test": "datum.s === '662'", "value": 2.2}, "value": 1.3}
     }}
  ]
}
]
}
